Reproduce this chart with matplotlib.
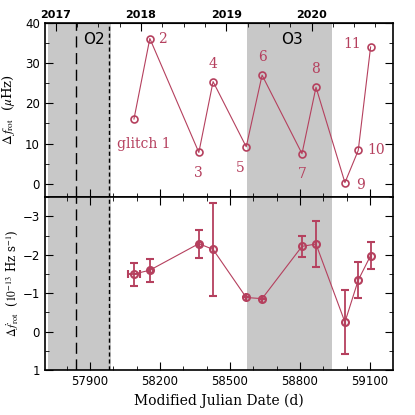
import numpy as np
import matplotlib
matplotlib.use("Agg")
import matplotlib.pyplot as plt
from matplotlib.ticker import MultipleLocator

# glitch epochs (MJD) and sizes
glitch_mjd = [58089, 58157, 58367, 58428, 58570, 58638, 58809, 58869, 58993, 59050, 59103]
dfreq = [16.1, 36.1, 7.8, 25.4, 9.2, 27.0, 7.5, 24.0, 0.3, 8.3, 34.0]
dfdot = [-1.50, -1.60, -2.29, -2.14, -0.89, -0.86, -2.22, -2.28, -0.25, -1.34, -1.98]
dfdot_err = [0.30, 0.30, 0.36, 1.21, 0.0, 0.0, 0.27, 0.59, 0.84, 0.47, 0.35]
mjd_err = [26, 0, 0, 0, 0, 0, 0, 0, 0, 0, 0]
glitch_names = ["glitch 1", "2", "3", "4", "5", "6", "7", "8", "9", "10", "11"]

o2_run = (57722, 57990)
o3_run = (58574, 58936)
gw_long = 57841
gw_short = 57983
years = [2017, 2018, 2019, 2020]

red = "#b5405e"
plt.rcParams['font.family'] = ['DejaVu Sans']
plt.rcParams['mathtext.fontset'] = 'stix'

fig = plt.figure(figsize=(4.15, 4.15), dpi=100)
ax1 = fig.add_axes([0.108, 0.525, 0.839, 0.42])
ax2 = fig.add_axes([0.108, 0.108, 0.839, 0.417], sharex=ax1)

for ax in (ax1, ax2):
    ax.axvspan(*o2_run, color="#c8c8c8", lw=0, zorder=0)
    ax.axvspan(*o3_run, color="#c8c8c8", lw=0, zorder=0)
    ax.axvline(gw_long, color="k", ls=(0, (8, 4)), lw=1.0)
    ax.axvline(gw_short, color="k", ls=(0, (3, 2)), lw=1.0)
    ax.tick_params(direction="in", which="both", top=True, right=True, labelsize=8.5)
    ax.tick_params(which="major", length=6)
    ax.tick_params(which="minor", length=3)
    for s in ax.spines.values():
        s.set_linewidth(1.2)
ax1.tick_params(which="both", top=False)

# upper panel: frequency jumps
ax1.plot(glitch_mjd, dfreq, color=red, lw=0.8, marker="o", ms=5,
         mfc="none", mec=red, mew=1.2)
ax1.set_ylim(-3.3, 40)
ax1.yaxis.set_major_locator(MultipleLocator(10))
ax1.yaxis.set_minor_locator(MultipleLocator(5))
ax1.tick_params(labelbottom=False)
ax1.set_ylabel(r"$\Delta\,f_{\rm rot}$  ($\mu$Hz)", fontsize=9.5, family="serif", labelpad=6)

offsets = [(7, -18), (9, 0), (0, -15), (0, 13), (-4, -15), (0, 13),
           (0, -15), (0, 13), (11, -2), (13, 0), (-13, 2)]
for x, y, name, off in zip(glitch_mjd, dfreq, glitch_names, offsets):
    ax1.annotate(name, (x, y), xytext=off, textcoords="offset points",
                 ha="center", va="center", color=red, fontsize=10,
                 family="DejaVu Serif")

ax1.text(57917, 35.8, "O2", fontsize=11, ha="center", va="center")
ax1.text(58766, 35.8, "O3", fontsize=11, ha="center", va="center")

# top axis in calendar years
def mjd2year(m):
    return 2017 + (np.asarray(m) - 57754) / 365.25

def year2mjd(y):
    return 57754 + (np.asarray(y) - 2017) * 365.25

top = ax1.secondary_xaxis("top", functions=(mjd2year, year2mjd))
top.set_xticks(years)
top.xaxis.set_minor_locator(MultipleLocator(0.25))
top.tick_params(direction="in", which="both", labelsize=8, pad=2)
top.tick_params(which="major", length=6)
top.tick_params(which="minor", length=3)
for lab in top.get_xticklabels():
    lab.set_fontweight("bold")

# lower panel: frequency derivative jumps
ax2.errorbar(glitch_mjd, dfdot, yerr=dfdot_err, xerr=mjd_err, color=red, lw=0.8,
             elinewidth=1.3, capsize=3, capthick=1.3, marker="o", ms=5,
             mfc="none", mec=red, mew=1.5)
ax2.plot(glitch_mjd[1:3], dfdot[1:3], ls="none", marker="s", ms=3,
         mfc="none", mec=red, mew=1.0)
ax2.set_ylim(1, -3.5)
ax2.yaxis.set_major_locator(MultipleLocator(1))
ax2.yaxis.set_minor_locator(MultipleLocator(0.5))
ax2.set_xlim(57707, 59199)
ax2.xaxis.set_minor_locator(MultipleLocator(100))
ax2.set_xticks([57900, 58200, 58500, 58800, 59100])
ax2.set_ylabel(r"$\Delta\,\dot{f}_{\rm rot}$  ($10^{-13}$ Hz s$^{-1}$)", fontsize=8.5,
               family="serif", labelpad=2)
ax2.set_xlabel("Modified Julian Date (d)", fontsize=10, family="DejaVu Serif")

fig.savefig("out.png", dpi=100)
